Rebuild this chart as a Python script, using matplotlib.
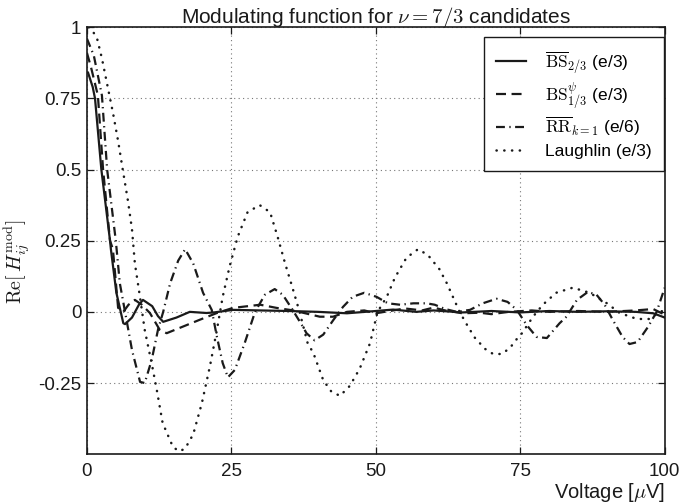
import matplotlib
matplotlib.use("Agg")
import matplotlib.pyplot as plt

plt.rcParams['font.family'] = ['Liberation Sans', 'DejaVu Sans']
plt.rcParams['mathtext.fontset'] = 'cm'

# Re[H_mod] against bias voltage for the four candidate states
bs23_v = [0.2, 1.0, 1.4, 2.5, 4.0, 4.15, 5.1, 6.3, 6.6, 7.8, 9.0, 9.7, 11.3, 12.3, 13.2,
          15.5, 17.8, 20.7, 22.0, 25.3, 30, 35, 40, 45, 50, 53, 57, 60, 65, 70, 75, 80,
          85, 90, 95, 98, 100]
bs23_y = [0.84, 0.79, 0.75, 0.50, 0.25, 0.22, 0.067, -0.04, -0.043, -0.02, 0.025, 0.042,
          0.02, -0.015, -0.035, -0.02, 0.0, -0.004, -0.002, 0.007, 0.005, 0.003, 0.0,
          -0.005, 0.003, 0.008, 0.0, 0.005, -0.002, 0.003, -0.002, 0.003, 0.0, 0.002,
          0.0, -0.005, -0.02]

bs13_v = [0.0, 0.7, 1.9, 2.8, 4.0, 4.5, 5.4, 6.3, 7.2, 8.3, 9.5, 10.9, 12.6, 13.8, 16.1,
          19.5, 22.5, 25.3, 30, 32.8, 35.7, 40.3, 42.6, 45, 48, 50, 53, 55, 58, 60, 62,
          65, 68, 70, 73, 77, 80, 85, 90, 95, 98, 100]
bs13_y = [0.91, 0.86, 0.76, 0.50, 0.25, 0.22, 0.014, 0.0, 0.025, 0.042, 0.025, -0.004,
          -0.063, -0.075, -0.056, -0.028, -0.004, 0.014, 0.025, 0.014, 0.005, -0.017,
          -0.017, 0.0, 0.005, -0.005, 0.005, 0.012, 0.005, 0.015, 0.005, -0.005, -0.003,
          -0.008, 0.0, 0.005, 0.0, 0.003, 0.0, 0.005, 0.01, -0.01]

rr_v = [0.0, 1.2, 2.6, 3.5, 5.0, 5.7, 6.6, 7.8, 9.2, 10.0, 11.2, 12.3, 13.2, 14.4, 15.8,
        17.0, 18.4, 20.1, 21.6, 22.5, 23.5, 24.4, 25.6, 27.3, 29.1, 30.8, 32.5, 33.9,
        35.6, 37.4, 38.0, 39.4, 40.9, 42.6, 44.3, 46.0, 48.0, 50.1, 52.1, 54.2, 56.5,
        58.8, 60.2, 62.0, 64.0, 66.3, 68.5, 70.9, 72.8, 74.4, 76.1, 77.8, 79.6, 81.8,
        83.0, 84.8, 86.7, 88.2, 89.6, 91.0, 92.7, 93.9, 95.3, 97.1, 98.6, 100]
rr_y = [0.96, 0.90, 0.76, 0.50, 0.25, 0.10, 0.0, -0.134, -0.246, -0.25, -0.17, -0.063,
        0.0, 0.10, 0.18, 0.22, 0.17, 0.067, 0.007, -0.088, -0.18, -0.23, -0.204, -0.11,
        0.0, 0.06, 0.08, 0.06, 0.007, -0.053, -0.075, -0.10, -0.08, -0.03, 0.017, 0.053,
        0.067, 0.053, 0.03, 0.025, 0.03, 0.03, 0.025, 0.01, 0.0, 0.007, 0.03, 0.046,
        0.035, 0.007, -0.046, -0.088, -0.092, -0.04, -0.017, 0.042, 0.07, 0.06, 0.025,
        -0.028, -0.088, -0.113, -0.106, -0.053, 0.0, 0.085]

laugh_v = [0.3, 1.0, 1.7, 2.6, 3.6, 4.5, 5.4, 6.2, 7.1, 7.8, 8.3, 9.2, 10.0, 11.2, 12.1,
           13.1, 14.9, 16.0, 17.0, 18.4, 19.9, 21.3, 22.5, 23.5, 24.7, 26.1, 27.8, 29.9,
           31.7, 33.0, 34.3, 35.5, 36.8, 38.2, 39.2, 40.9, 42.3, 43.8, 45.5, 47.2, 49.0,
           50.3, 51.9, 53.3, 55.3, 57.3, 59.0, 61.0, 62.3, 63.4, 64.5, 65.9, 67.1, 68.9,
           70.3, 71.8, 73.2, 74.6, 75.3, 77.2, 78.9, 81.2, 84.1, 87.0, 90.0, 92.2, 95.2,
           97.4, 99.1, 100]
laugh_y = [1.0, 0.985, 0.965, 0.89, 0.79, 0.70, 0.60, 0.50, 0.39, 0.29, 0.17, 0.05, -0.063,
           -0.18, -0.275, -0.39, -0.475, -0.49, -0.48, -0.43, -0.32, -0.19, -0.063, 0.053,
           0.16, 0.264, 0.35, 0.375, 0.35, 0.264, 0.17, 0.09, 0.0, -0.11, -0.145, -0.24,
           -0.28, -0.295, -0.26, -0.20, -0.11, 0.0, 0.053, 0.12, 0.19, 0.22, 0.20, 0.15,
           0.10, 0.05, 0.0, -0.05, -0.09, -0.13, -0.148, -0.148, -0.127, -0.09, -0.075,
           -0.017, 0.025, 0.067, 0.085, 0.067, 0.03, -0.004, -0.025, -0.025, 0.0, 0.005]

labels = [r'$\overline{\mathrm{BS}}_{2/3}$ (e/3)',
          r'$\mathrm{BS}^{\psi}_{1/3}$ (e/3)',
          r'$\overline{\mathrm{RR}}_{k=1}$ (e/6)',
          'Laughlin (e/3)']

xticks = [0, 25, 50, 75, 100]
yticks = [-0.25, 0, 0.25, 0.5, 0.75, 1]
yticklabels = ['-0.25', '0', '0.25', '0.5', '0.75', '1']

fig = plt.figure(figsize=(6.79, 5.03), dpi=100)
ax = fig.add_axes([0.128, 0.097, 0.851, 0.849])

ink = '#1a1a1a'
ax.plot(bs23_v, bs23_y, color=ink, lw=1.6, ls='-', label=labels[0])
ax.plot(bs13_v, bs13_y, color=ink, lw=1.6, ls=(0, (4.5, 2.5)), label=labels[1])
ax.plot(rr_v, rr_y, color=ink, lw=1.6, ls=(0, (4, 2, 0.6, 2)), label=labels[2])
ax.plot(laugh_v, laugh_y, color=ink, lw=1.8, ls=(0, (0.1, 3)),
        dash_capstyle='round', label=labels[3])

ax.set_xlim(0, 100)
ax.set_ylim(-0.5, 1)
ax.set_xticks(xticks)
ax.set_xticklabels([str(t) for t in xticks])
ax.set_yticks(yticks)
ax.set_yticklabels(yticklabels)
ax.tick_params(direction='in', length=5, width=0.9, top=True, right=True,
               labelsize=13.5, colors=ink)
ax.tick_params(axis='y', pad=4)
ax.tick_params(axis='x', pad=6)
ax.grid(True, ls=(0, (1, 3)), color='#777777', lw=0.8)
for s in ax.spines.values():
    s.set_linewidth(1.2)
    s.set_color(ink)

ax.set_title(r'Modulating function for $\nu = 7/3$ candidates', fontsize=15, pad=3,
             color=ink)
ax.set_xlabel(r'Voltage [$\mu$V]', fontsize=14.5, loc='right', labelpad=1, color=ink)
ax.set_ylabel(r'$\mathrm{Re}[\,H^{\mathrm{mod}}_{ij}]$', fontsize=14.5, color=ink)
ax.yaxis.set_label_coords(-0.095, 0.45)

leg = ax.legend(loc='upper right', bbox_to_anchor=(0.998, 0.977), borderaxespad=0,
                fontsize=12.5, handlelength=1.7, handletextpad=1.1,
                labelspacing=0.3, borderpad=0.7, fancybox=False, framealpha=1)
leg.get_frame().set_edgecolor(ink)
leg.get_frame().set_linewidth(1.0)

fig.savefig('out.png', dpi=100)
